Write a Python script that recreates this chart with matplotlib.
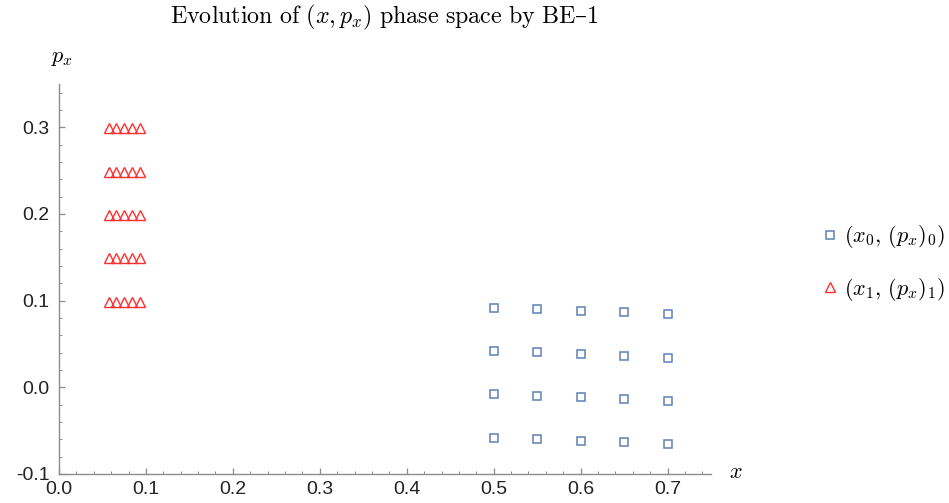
import numpy as np
import matplotlib
matplotlib.use('Agg')
from matplotlib import pyplot as plt
from matplotlib.ticker import MultipleLocator, FormatStrFormatter

# valeurs
x0_cols = [0.5, 0.55, 0.6, 0.65, 0.7]
p0_rows = [
    [0.092, 0.0904, 0.0885, 0.0866, 0.0847],
    [0.042, 0.0405, 0.0385, 0.0366, 0.0343],
    [-0.008, -0.0096, -0.0114, -0.0134, -0.0157],
    [-0.058, -0.0595, -0.0615, -0.0633, -0.0656],
]
x1_cols = [0.057, 0.066, 0.075, 0.084, 0.093]
p1_rows = [0.299, 0.249, 0.199, 0.149, 0.099]

title = r'$\mathrm{Evolution\ of\ }(x, p_x)\mathrm{\ phase\ space\ by\ BE}$–$\mathrm{1}$'
label0 = r'$(x_0,\, (p_x)_0)$'
label1 = r'$(x_1,\, (p_x)_1)$'

plt.rcParams['mathtext.fontset'] = 'cm'
plt.rcParams['font.family'] = ['Liberation Sans', 'DejaVu Sans']

blue = '#5e81b5'
red = '#ff3030'
axis_gray = '#8c8c8c'

X0 = np.tile(x0_cols, len(p0_rows))
P0 = np.array(p0_rows).ravel()
X1 = np.tile(x1_cols, len(p1_rows))
P1 = np.repeat(p1_rows, len(x1_cols))

fig = plt.figure(figsize=(9.49, 5.03), dpi=100)
ax = fig.add_axes([59 / 949, 29 / 503, 652 / 949, 390 / 503])

ax.plot(X0, P0, ls='none', marker='s', ms=6, mfc='none', mec=blue, mew=1.1, label=label0)
ax.plot(X1, P1, ls='none', marker='^', ms=7, mfc='none', mec=red, mew=1.0, label=label1)

ax.set_xlim(0, 0.75)
ax.set_ylim(-0.1, 0.35)
ax.spines['top'].set_visible(False)
ax.spines['right'].set_visible(False)
for s in ('left', 'bottom'):
    ax.spines[s].set_color(axis_gray)
    ax.spines[s].set_linewidth(1.0)

ax.xaxis.set_major_locator(MultipleLocator(0.1))
ax.xaxis.set_minor_locator(MultipleLocator(0.02))
ax.yaxis.set_major_locator(MultipleLocator(0.1))
ax.yaxis.set_minor_locator(MultipleLocator(0.02))
ax.xaxis.set_major_formatter(FormatStrFormatter('%.1f'))
ax.yaxis.set_major_formatter(FormatStrFormatter('%.1f'))
ax.tick_params(which='both', direction='in', color=axis_gray, labelsize=14, labelcolor='#222222')
ax.tick_params(which='major', length=4, width=0.9)
ax.tick_params(which='minor', length=2.2, width=0.7)
ax.tick_params(axis='x', pad=5)
ax.tick_params(axis='y', pad=7)

fig.text(384 / 949, 1 - 17 / 503, title, ha='center', va='center', fontsize=17.3,
         family=['DejaVu Serif'])
fig.text(62 / 949, 1 - 57 / 503, r'$p_x$', ha='center', va='center', fontsize=16)
fig.text(736 / 949, 1 - 472 / 503, r'$x$', ha='center', va='center', fontsize=16)

fig.legend(loc='center left', bbox_to_anchor=(0.8445, 0.477), frameon=False, fontsize=16,
           handlelength=0.8, handletextpad=0.22, labelspacing=1.15, borderpad=0.4)

fig.savefig('out.png', dpi=100)
